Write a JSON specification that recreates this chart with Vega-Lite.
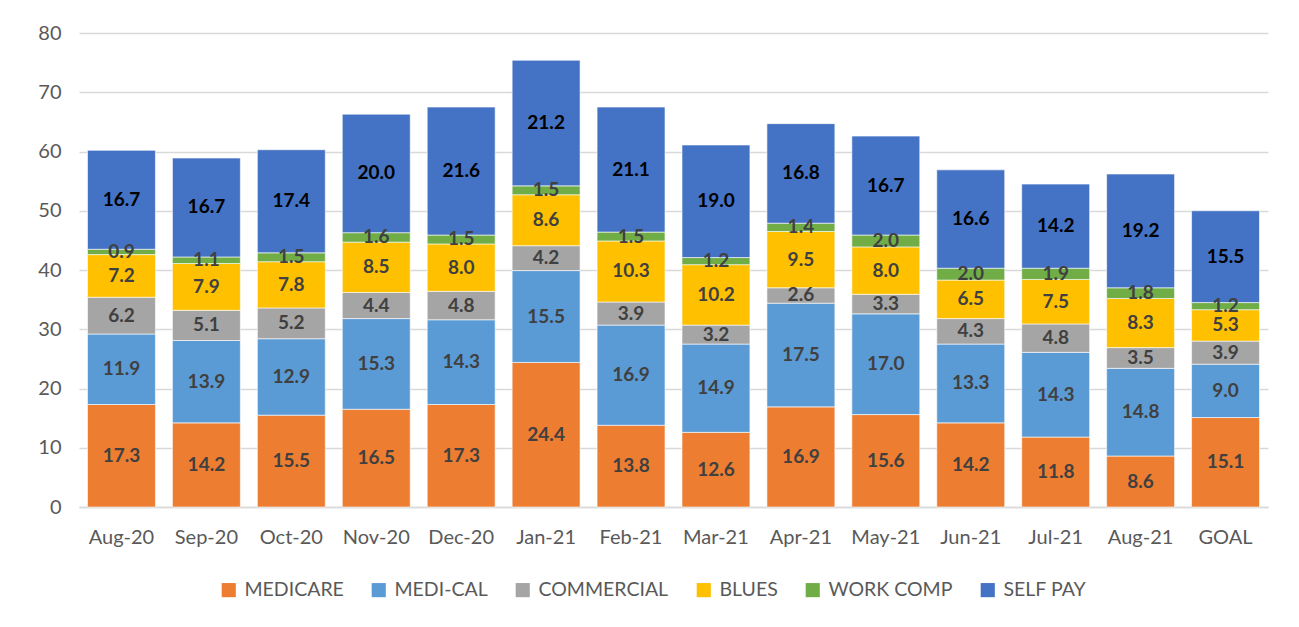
{
  "$schema": "https://vega.github.io/schema/vega-lite/v6.json",
  "width": 1189,
  "height": 474,
  "autosize": {"type": "none"},
  "padding": {"left": 79, "top": 33, "right": 31, "bottom": 120},
  "background": "white",
  "config": {
    "font": "Lato",
    "view": {"stroke": null}
  },
  "data": {
    "values": [
      {"month":"Aug-20","payer":"MEDICARE","k":1,"v":17.3},{"month":"Aug-20","payer":"MEDI-CAL","k":2,"v":11.9},{"month":"Aug-20","payer":"COMMERCIAL","k":3,"v":6.2},{"month":"Aug-20","payer":"BLUES","k":4,"v":7.2},{"month":"Aug-20","payer":"WORK COMP","k":5,"v":0.9},{"month":"Aug-20","payer":"SELF PAY","k":6,"v":16.7},
      {"month":"Sep-20","payer":"MEDICARE","k":1,"v":14.2},{"month":"Sep-20","payer":"MEDI-CAL","k":2,"v":13.9},{"month":"Sep-20","payer":"COMMERCIAL","k":3,"v":5.1},{"month":"Sep-20","payer":"BLUES","k":4,"v":7.9},{"month":"Sep-20","payer":"WORK COMP","k":5,"v":1.1},{"month":"Sep-20","payer":"SELF PAY","k":6,"v":16.7},
      {"month":"Oct-20","payer":"MEDICARE","k":1,"v":15.5},{"month":"Oct-20","payer":"MEDI-CAL","k":2,"v":12.9},{"month":"Oct-20","payer":"COMMERCIAL","k":3,"v":5.2},{"month":"Oct-20","payer":"BLUES","k":4,"v":7.8},{"month":"Oct-20","payer":"WORK COMP","k":5,"v":1.5},{"month":"Oct-20","payer":"SELF PAY","k":6,"v":17.4},
      {"month":"Nov-20","payer":"MEDICARE","k":1,"v":16.5},{"month":"Nov-20","payer":"MEDI-CAL","k":2,"v":15.3},{"month":"Nov-20","payer":"COMMERCIAL","k":3,"v":4.4},{"month":"Nov-20","payer":"BLUES","k":4,"v":8.5},{"month":"Nov-20","payer":"WORK COMP","k":5,"v":1.6},{"month":"Nov-20","payer":"SELF PAY","k":6,"v":20.0},
      {"month":"Dec-20","payer":"MEDICARE","k":1,"v":17.3},{"month":"Dec-20","payer":"MEDI-CAL","k":2,"v":14.3},{"month":"Dec-20","payer":"COMMERCIAL","k":3,"v":4.8},{"month":"Dec-20","payer":"BLUES","k":4,"v":8.0},{"month":"Dec-20","payer":"WORK COMP","k":5,"v":1.5},{"month":"Dec-20","payer":"SELF PAY","k":6,"v":21.6},
      {"month":"Jan-21","payer":"MEDICARE","k":1,"v":24.4},{"month":"Jan-21","payer":"MEDI-CAL","k":2,"v":15.5},{"month":"Jan-21","payer":"COMMERCIAL","k":3,"v":4.2},{"month":"Jan-21","payer":"BLUES","k":4,"v":8.6},{"month":"Jan-21","payer":"WORK COMP","k":5,"v":1.5},{"month":"Jan-21","payer":"SELF PAY","k":6,"v":21.2},
      {"month":"Feb-21","payer":"MEDICARE","k":1,"v":13.8},{"month":"Feb-21","payer":"MEDI-CAL","k":2,"v":16.9},{"month":"Feb-21","payer":"COMMERCIAL","k":3,"v":3.9},{"month":"Feb-21","payer":"BLUES","k":4,"v":10.3},{"month":"Feb-21","payer":"WORK COMP","k":5,"v":1.5},{"month":"Feb-21","payer":"SELF PAY","k":6,"v":21.1},
      {"month":"Mar-21","payer":"MEDICARE","k":1,"v":12.6},{"month":"Mar-21","payer":"MEDI-CAL","k":2,"v":14.9},{"month":"Mar-21","payer":"COMMERCIAL","k":3,"v":3.2},{"month":"Mar-21","payer":"BLUES","k":4,"v":10.2},{"month":"Mar-21","payer":"WORK COMP","k":5,"v":1.2},{"month":"Mar-21","payer":"SELF PAY","k":6,"v":19.0},
      {"month":"Apr-21","payer":"MEDICARE","k":1,"v":16.9},{"month":"Apr-21","payer":"MEDI-CAL","k":2,"v":17.5},{"month":"Apr-21","payer":"COMMERCIAL","k":3,"v":2.6},{"month":"Apr-21","payer":"BLUES","k":4,"v":9.5},{"month":"Apr-21","payer":"WORK COMP","k":5,"v":1.4},{"month":"Apr-21","payer":"SELF PAY","k":6,"v":16.8},
      {"month":"May-21","payer":"MEDICARE","k":1,"v":15.6},{"month":"May-21","payer":"MEDI-CAL","k":2,"v":17.0},{"month":"May-21","payer":"COMMERCIAL","k":3,"v":3.3},{"month":"May-21","payer":"BLUES","k":4,"v":8.0},{"month":"May-21","payer":"WORK COMP","k":5,"v":2.0},{"month":"May-21","payer":"SELF PAY","k":6,"v":16.7},
      {"month":"Jun-21","payer":"MEDICARE","k":1,"v":14.2},{"month":"Jun-21","payer":"MEDI-CAL","k":2,"v":13.3},{"month":"Jun-21","payer":"COMMERCIAL","k":3,"v":4.3},{"month":"Jun-21","payer":"BLUES","k":4,"v":6.5},{"month":"Jun-21","payer":"WORK COMP","k":5,"v":2.0},{"month":"Jun-21","payer":"SELF PAY","k":6,"v":16.6},
      {"month":"Jul-21","payer":"MEDICARE","k":1,"v":11.8},{"month":"Jul-21","payer":"MEDI-CAL","k":2,"v":14.3},{"month":"Jul-21","payer":"COMMERCIAL","k":3,"v":4.8},{"month":"Jul-21","payer":"BLUES","k":4,"v":7.5},{"month":"Jul-21","payer":"WORK COMP","k":5,"v":1.9},{"month":"Jul-21","payer":"SELF PAY","k":6,"v":14.2},
      {"month":"Aug-21","payer":"MEDICARE","k":1,"v":8.6},{"month":"Aug-21","payer":"MEDI-CAL","k":2,"v":14.8},{"month":"Aug-21","payer":"COMMERCIAL","k":3,"v":3.5},{"month":"Aug-21","payer":"BLUES","k":4,"v":8.3},{"month":"Aug-21","payer":"WORK COMP","k":5,"v":1.8},{"month":"Aug-21","payer":"SELF PAY","k":6,"v":19.2},
      {"month":"GOAL","payer":"MEDICARE","k":1,"v":15.1},{"month":"GOAL","payer":"MEDI-CAL","k":2,"v":9.0},{"month":"GOAL","payer":"COMMERCIAL","k":3,"v":3.9},{"month":"GOAL","payer":"BLUES","k":4,"v":5.3},{"month":"GOAL","payer":"WORK COMP","k":5,"v":1.2},{"month":"GOAL","payer":"SELF PAY","k":6,"v":15.5}
    ]
  },
  "transform": [
    {"stack": "v", "groupby": ["month"], "sort": [{"field": "k", "order": "ascending"}], "as": ["y0", "y1"]},
    {"calculate": "(datum.y0 + datum.y1) / 2", "as": "ymid"}
  ],
  "encoding": {
    "x": {
      "field": "month", "type": "nominal", "sort": null,
      "scale": {"paddingInner": 0.2, "paddingOuter": 0.1},
      "axis": {
        "title": null, "labelAngle": 0, "labelFontSize": 20, "labelColor": "#595959",
        "labelPadding": 20, "ticks": false, "domainColor": "#D9D9D9", "domainWidth": 1.5
      }
    }
  },
  "layer": [
    {
      "mark": {"type": "bar", "stroke": "white", "strokeWidth": 0.6},
      "encoding": {
        "y": {
          "field": "y0", "type": "quantitative",
          "scale": {"domain": [0, 80]},
          "axis": {
            "title": null, "values": [0,10,20,30,40,50,60,70,80], "labelOverlap": false,
            "labelFontSize": 20, "labelColor": "#595959", "labelPadding": 18,
            "ticks": false, "domain": false, "gridColor": "#D9D9D9", "gridWidth": 1.5
          }
        },
        "y2": {"field": "y1"},
        "color": {
          "field": "payer", "type": "nominal",
          "scale": {
            "domain": ["MEDICARE", "MEDI-CAL", "COMMERCIAL", "BLUES", "WORK COMP", "SELF PAY"],
            "range": ["#ED7D31", "#5B9BD5", "#A5A5A5", "#FFC000", "#70AD47", "#4472C4"]
          },
          "legend": {
            "title": null, "orient": "none", "legendX": 140, "legendY": 547, "direction": "horizontal",
            "symbolType": "square", "symbolSize": 200, "symbolStrokeWidth": 0,
            "labelFontSize": 19.5, "labelColor": "#595959", "columnPadding": 25,
            "labelOffset": 6
          }
        }
      }
    },
    {
      "mark": {"type": "text", "fontSize": 19, "fontWeight": "bold", "baseline": "middle"},
      "encoding": {
        "y": {"field": "ymid", "type": "quantitative"},
        "text": {"field": "v", "type": "quantitative", "format": ".1f"},
        "color": {
          "condition": {"test": "datum.payer === 'SELF PAY'", "value": "#000000"},
          "value": "#404040"
        }
      }
    }
  ]
}
